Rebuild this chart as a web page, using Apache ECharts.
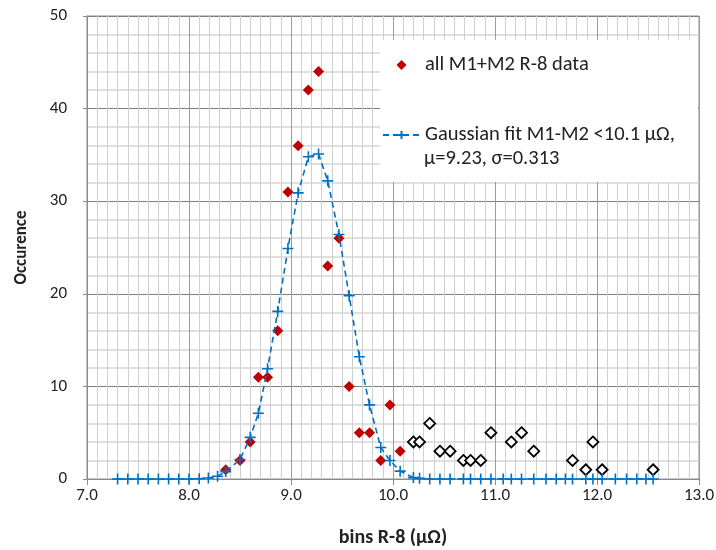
<!DOCTYPE html>
<html>
<head>
<meta charset="utf-8">
<script src="https://cdn.jsdelivr.net/npm/echarts@6/dist/echarts.min.js"></script>
<style>
html,body{margin:0;padding:0;background:#fff;}
#chart{width:716px;height:550px;}
</style>
</head>
<body>
<div id="chart"></div>
<script>
// Bin positions (µΩ) shared by the fit curve
var fitX = [7.30,7.40,7.50,7.60,7.70,7.80,7.90,8.00,8.10,8.19,8.28,8.36,8.50,8.60,8.68,8.77,8.87,8.97,9.07,9.17,9.27,9.36,9.47,9.57,9.67,9.77,9.88,9.97,10.07,10.20,10.26,10.36,10.46,10.56,10.69,10.76,10.86,10.96,11.08,11.16,11.26,11.38,11.50,11.60,11.69,11.76,11.89,11.96,12.05,12.18,12.29,12.39,12.48,12.55];
// Gaussian fit values
var fitY = [0,0,0,0,0,0,0,0,0.03,0.1,0.3,0.8,2.1,4.5,7.1,11.9,18.1,24.9,30.9,34.8,35.1,32.2,26.4,19.8,13.2,8.0,3.4,2.0,0.85,0.15,0.07,0,0,0,0,0,0,0,0,0,0,0,0,0,0,0,0,0,0,0,0,0,0,0];
// all M1+M2 R-8 data (filled red diamonds)
var dataX = [8.36,8.50,8.60,8.68,8.77,8.87,8.97,9.07,9.17,9.27,9.36,9.47,9.57,9.67,9.77,9.88,9.97,10.07];
var dataY = [1,2,4,11,11,16,31,36,42,44,23,26,10,5,5,2,8,3];
// data above 10.1 µΩ (open diamonds)
var outX = [10.20,10.26,10.36,10.46,10.56,10.69,10.76,10.86,10.96,11.16,11.26,11.38,11.76,11.89,11.96,12.05,12.55];
var outY = [4,4,6,3,3,2,2,2,5,4,5,3,2,1,4,1,1];

var nameData = 'all M1+M2 R-8 data';
var nameFit = 'Gaussian fit M1-M2 <10.1 μΩ,';
var fitLine2 = 'μ=9.23, σ=0.313';

function zip(a, b) { return a.map(function (v, i) { return [v, b[i]]; }); }

var FONT = 'Carlito, Calibri, Lato, sans-serif';
var crossPath = 'path://M5,0L5,10M0,5L10,5';
var legendDiamond = 'path://M0,5M13.5,5L18.5,0L23.5,5L18.5,10ZM37,5';

var chart = echarts.init(document.getElementById('chart'), null, {renderer: 'canvas'});
chart.setOption({
  backgroundColor: '#fff',
  animation: false,
  textStyle: {fontFamily: FONT},
  grid: {left: 87, right: 17, top: 16, bottom: 71, show: true, borderColor: '#8a8a8a', borderWidth: 1, outerBoundsMode: 'none', containLabel: false},
  xAxis: {
    type: 'value', min: 7, max: 13, interval: 1,
    name: 'bins R-8 (μΩ)', nameLocation: 'middle', nameGap: 49,
    nameTextStyle: {fontFamily: FONT, fontSize: 20, fontWeight: 'bold', color: '#222'},
    axisLine: {show: true, onZero: false, lineStyle: {color: '#8a8a8a', width: 1}},
    axisTick: {show: true, length: 6, lineStyle: {color: '#8a8a8a'}},
    axisLabel: {fontFamily: FONT, fontSize: 17, color: '#222', margin: 8, formatter: function (v) { return v.toFixed(1); }},
    splitLine: {show: true, lineStyle: {color: '#9c9c9c', width: 1}},
    minorTick: {show: false, splitNumber: 10},
    minorSplitLine: {show: true, lineStyle: {color: '#cfcfcf', width: 1}}
  },
  yAxis: {
    type: 'value', min: 0, max: 50, interval: 10,
    name: 'Occurence', nameLocation: 'middle', nameGap: 57, nameRotate: 90,
    nameTextStyle: {fontFamily: FONT, fontSize: 17, fontWeight: 'bold', color: '#222'},
    axisLine: {show: true, lineStyle: {color: '#8a8a8a', width: 1}},
    axisTick: {show: true, length: 4, lineStyle: {color: '#8a8a8a'}},
    axisLabel: {fontFamily: FONT, fontSize: 17, color: '#222', margin: 20},
    splitLine: {show: true, lineStyle: {color: '#7f7f7f', width: 1.2}},
    minorTick: {show: false, splitNumber: 5},
    minorSplitLine: {show: true, lineStyle: {color: '#d6d6d6', width: 1.5}}
  },
  legend: {
    left: 380, top: 40, orient: 'vertical',
    padding: [13, 0, 0, 2], itemGap: 46, itemWidth: 37, itemHeight: 10,
    textStyle: {fontFamily: FONT, fontSize: 20.5, color: '#222', lineHeight: 24},
    data: [{name: nameData, icon: legendDiamond}, {name: nameFit}]
  },
  graphic: [
    {type: 'rect', z: 3, silent: true, shape: {x: 380, y: 40, width: 318, height: 142}, style: {fill: '#fff'}},
    {type: 'text', z: 5, silent: true, x: 424, y: 159, style: {text: fitLine2, font: '20.5px ' + FONT, fill: '#222', verticalAlign: 'middle', align: 'left'}}
  ],
  series: [
    {
      name: nameData, type: 'scatter', z: 2,
      symbol: 'diamond', symbolSize: 11,
      itemStyle: {color: '#c00000', opacity: 1},
      data: zip(dataX, dataY)
    },
    {
      name: 'M1+M2 R-8 data >10.1 μΩ', type: 'scatter', z: 2,
      symbol: 'diamond', symbolSize: 11,
      itemStyle: {color: '#ffffff', borderColor: '#000000', borderWidth: 1.8, opacity: 1},
      data: zip(outX, outY)
    },
    {
      name: nameFit, type: 'line', z: 3,
      symbol: crossPath, symbolSize: 11, showSymbol: true, showAllSymbol: true,
      lineStyle: {color: '#0070c0', width: 1.6, type: [6, 4]},
      itemStyle: {color: '#0070c0', borderColor: '#0070c0', borderWidth: 1.6},
      data: zip(fitX, fitY)
    }
  ]
});
</script>
</body>
</html>
